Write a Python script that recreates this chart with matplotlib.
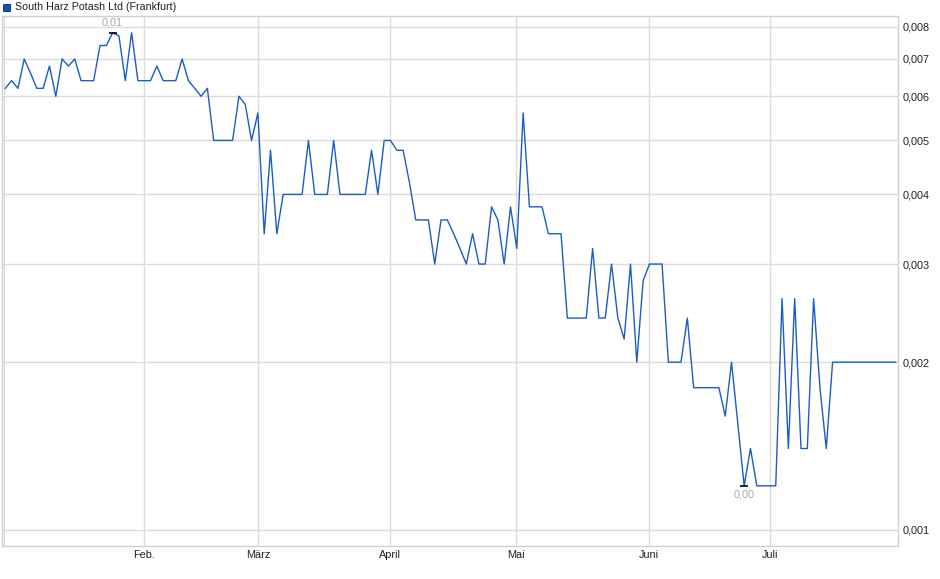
import matplotlib
matplotlib.use("Agg")
import matplotlib.pyplot as plt
import matplotlib.ticker as mticker
from matplotlib.patches import Rectangle
import numpy as np

plt.rcParams['font.family'] = ['Liberation Sans', 'DejaVu Sans']

# Schlusskurse (Handelstage, Index 0..141)
kurse = [
    0.0062, 0.0064, 0.0062, 0.0070, 0.0066, 0.0062, 0.0062, 0.0068, 0.0060, 0.0070,
    0.0068, 0.0070, 0.0064, 0.0064, 0.0064, 0.0074, 0.0074, 0.0078, 0.0077, 0.0064,
    0.0078, 0.0064, 0.0064, 0.0064, 0.0068, 0.0064, 0.0064, 0.0064, 0.0070, 0.0064,
    0.0062, 0.0060, 0.0062, 0.0050, 0.0050, 0.0050, 0.0050, 0.0060, 0.0058, 0.0050,
    0.0056, 0.0034, 0.0048, 0.0034, 0.0040, 0.0040, 0.0040, 0.0040, 0.0050, 0.0040,
    0.0040, 0.0040, 0.0050, 0.0040, 0.0040, 0.0040, 0.0040, 0.0040, 0.0048, 0.0040,
    0.0050, 0.0050, 0.0048, 0.0048, 0.0042, 0.0036, 0.0036, 0.0036, 0.0030, 0.0036,
    0.0036, 0.0034, 0.0032, 0.0030, 0.0034, 0.0030, 0.0030, 0.0038, 0.0036, 0.0030,
    0.0038, 0.0032, 0.0056, 0.0038, 0.0038, 0.0038, 0.0034, 0.0034, 0.0034, 0.0024,
    0.0024, 0.0024, 0.0024, 0.0032, 0.0024, 0.0024, 0.0030, 0.0024, 0.0022, 0.0030,
    0.0020, 0.0028, 0.0030, 0.0030, 0.0030, 0.0020, 0.0020, 0.0020, 0.0024, 0.0018,
    0.0018, 0.0018, 0.0018, 0.0018, 0.0016, 0.0020, 0.00155, 0.0012, 0.0014, 0.0012,
    0.0012, 0.0012, 0.0012, 0.0026, 0.0014, 0.0026, 0.0014, 0.0014, 0.0026, 0.0018,
    0.0014, 0.0020, 0.0020, 0.0020, 0.0020, 0.0020, 0.0020, 0.0020, 0.0020, 0.0020,
    0.0020, 0.0020,
]

monate = ["Feb.", "März", "April", "Mai", "Juni", "Juli"]
monat_pos = [21.96, 40.0, 60.9, 80.9, 101.9, 121.1]

y_ticks = [0.001, 0.002, 0.003, 0.004, 0.005, 0.006, 0.007, 0.008]
y_labels = ["0,001", "0,002", "0,003", "0,004", "0,005", "0,006", "0,007", "0,008"]

titel = "South Harz Potash Ltd (Frankfurt)"

x = np.arange(len(kurse))
y = np.array(kurse)

fig = plt.figure(figsize=(9.4, 5.79), dpi=100)
ax = fig.add_axes([2 / 940, (579 - 545.7) / 579, 896 / 940, 530 / 579])

grau = "#dcdcdc"
ax.set_yscale("log")
ax.set_ylim(0.000937, 0.00837)
ax.set_xlim(-0.52, 141.36)

# Gitter
for yt in y_ticks:
    ax.axhline(yt, color=grau, lw=1.0, zorder=1)
for xp in monat_pos:
    ax.axvline(xp, color=grau, lw=1.0, zorder=1)
ax.axvline(-0.2, color=grau, lw=1.0, zorder=1)

ax.plot(x, y, color="#1a5cc8", lw=1.0, zorder=3)

# Hoch / Tief
i_max = int(np.argmax(y))
i_min = int(np.argmin(y))
ax.plot(x[i_max], y[i_max], marker="_", ms=6, mew=1.2, color="black", zorder=4)
ax.plot(x[i_min], y[i_min], marker="_", ms=6, mew=1.2, color="black", zorder=4)
ax.annotate(f"{y[i_max]:.2f}".replace(".", ","), (x[i_max], y[i_max]),
            xytext=(0, 4), textcoords="offset points", ha="center", va="bottom",
            fontsize=7.8, color="#a8a8a8")
ax.annotate(f"{y[i_min]:.2f}".replace(".", ","), (x[i_min], y[i_min]),
            xytext=(0, -3), textcoords="offset points", ha="center", va="top",
            fontsize=7.8, color="#a8a8a8")

# Achsen
ax.yaxis.tick_right()
ax.yaxis.set_major_locator(mticker.FixedLocator(y_ticks))
ax.yaxis.set_major_formatter(mticker.FixedFormatter(y_labels))
ax.yaxis.set_minor_locator(mticker.NullLocator())
ax.set_xticks(monat_pos)
ax.set_xticklabels(monate)
ax.tick_params(axis="both", length=0, labelsize=7.8, colors="#222222")
ax.tick_params(axis="y", pad=3.5)
ax.tick_params(axis="x", pad=3)
for s in ax.spines.values():
    s.set_color("#d0d0d0")
    s.set_linewidth(1.0)

# Titel mit Legendenquadrat
fig.patches.append(Rectangle((3 / 940, 1 - 11 / 579), 7 / 940, 7 / 579,
                             transform=fig.transFigure, facecolor="#1a4fb4",
                             edgecolor="#0c2c70", lw=0.6))
fig.text(15 / 940, 1 - 7 / 579, titel, fontsize=7.7, color="#222222",
         ha="left", va="center")

fig.savefig("out.png", dpi=100)
